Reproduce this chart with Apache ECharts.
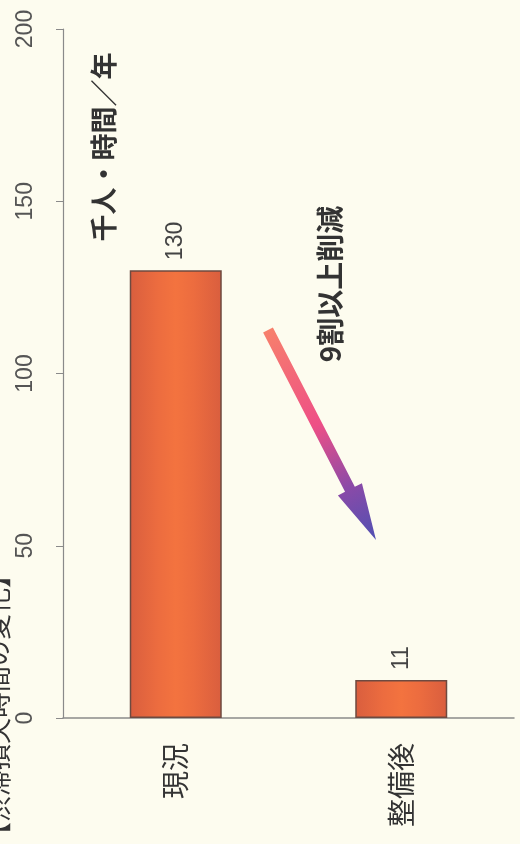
<!DOCTYPE html>
<html>
<head>
<meta charset="utf-8">
<script src="https://cdn.jsdelivr.net/npm/echarts@6/dist/echarts.min.js"></script>
<style>
  html, body { margin: 0; padding: 0; background: #fdfcef; }
  #chart { width: 520px; height: 844px; }
</style>
</head>
<body>
<div id="chart"></div>
<script>
// Congestion time loss: current vs. after improvement (thousand person-hours / year)
const categories = ['現況', '整備後'];
const values = [130, 11];
const axisTicks = [0, 50, 100, 150, 200];
const unitText = '千人・時間／年';
const noteText = '9割以上削減';
const sideTitle = '【渋滞損失時間の変化】';

const chart = echarts.init(document.getElementById('chart'), null, { renderer: 'canvas' });

const latin = '"Liberation Sans", Arial, sans-serif';
const cjk = '"Noto Sans CJK JP", "Noto Sans", sans-serif';

const barFill = new echarts.graphic.LinearGradient(0, 0, 1, 0, [
  { offset: 0, color: '#d95e3e' },
  { offset: 0.3, color: '#ec6c3f' },
  { offset: 0.5, color: '#f3733f' },
  { offset: 0.7, color: '#ec6c3f' },
  { offset: 1, color: '#d95e3e' }
]);

const option = {
  backgroundColor: '#fdfcef',
  animation: false,
  grid: { left: 63, right: 6, top: 29, bottom: 126, containLabel: false },
  xAxis: {
    type: 'category',
    data: categories,
    axisLine: { show: true, lineStyle: { color: '#8a8a8a', width: 1.5 } },
    axisTick: { show: false },
    axisLabel: {
      rotate: 90,
      margin: 25,
      fontSize: 28,
      color: '#333',
      fontFamily: cjk
    }
  },
  yAxis: {
    type: 'value',
    min: axisTicks[0],
    max: axisTicks[axisTicks.length - 1],
    interval: axisTicks[1] - axisTicks[0],
    splitLine: { show: false },
    axisLine: { show: true, lineStyle: { color: '#8a8a8a', width: 1.2 } },
    axisTick: { show: true, length: 7, lineStyle: { color: '#8a8a8a' } },
    axisLabel: {
      rotate: 90,
      margin: 26,
      fontSize: 23,
      color: '#555',
      fontFamily: latin
    }
  },
  series: [{
    type: 'bar',
    data: values,
    barWidth: 92,
    itemStyle: { color: barFill, borderColor: '#6e4a40', borderWidth: 1.5 },
    label: {
      show: true,
      position: 'top',
      distance: 10,
      rotate: 90,
      align: 'left',
      verticalAlign: 'middle',
      fontSize: 23,
      color: '#444',
      fontFamily: latin
    }
  }]
};

chart.setOption(option);

// Annotation arrow (gradient from salmon to violet) and texts
function arrowPoints(x0, y0, x1, y1, shaftHalf, headHalf, headLen) {
  const dx = x1 - x0, dy = y1 - y0;
  const len = Math.sqrt(dx * dx + dy * dy);
  const ux = dx / len, uy = dy / len;
  const nx = -uy, ny = ux;
  const bx = x1 - ux * headLen, by = y1 - uy * headLen;
  return [
    [x0 + nx * shaftHalf, y0 + ny * shaftHalf],
    [bx + nx * shaftHalf, by + ny * shaftHalf],
    [bx + nx * headHalf, by + ny * headHalf],
    [x1, y1],
    [bx - nx * headHalf, by - ny * headHalf],
    [bx - nx * shaftHalf, by - ny * shaftHalf],
    [x0 - nx * shaftHalf, y0 - ny * shaftHalf]
  ];
}

const ax0 = 268, ay0 = 330, ax1 = 376, ay1 = 540;

chart.setOption({
  graphic: [
    {
      type: 'polygon',
      shape: { points: arrowPoints(ax0, ay0, ax1, ay1, 5.5, 13.5, 57) },
      style: {
        fill: new echarts.graphic.LinearGradient(ax0, ay0, ax1, ay1, [
          { offset: 0, color: '#f7806c' },
          { offset: 0.45, color: '#ee4f86' },
          { offset: 0.75, color: '#8a4aa8' },
          { offset: 1, color: '#5050b2' }
        ], true)
      },
      z: 10
    },
    {
      type: 'text',
      x: 104, y: 147,
      rotation: Math.PI / 2,
      style: {
        text: unitText,
        fontSize: 27,
        fontWeight: 'bold',
        fill: '#333',
        fontFamily: cjk,
        textAlign: 'center',
        textVerticalAlign: 'middle'
      }
    },
    {
      type: 'text',
      x: 330, y: 284,
      rotation: Math.PI / 2,
      style: {
        text: noteText,
        fontSize: 28,
        fontWeight: 'bold',
        fill: '#333',
        fontFamily: cjk,
        textAlign: 'center',
        textVerticalAlign: 'middle'
      }
    },
    {
      type: 'text',
      x: -2, y: 562,
      rotation: Math.PI / 2,
      style: {
        text: sideTitle,
        fontSize: 26,
        fill: '#333',
        fontFamily: cjk,
        textAlign: 'right',
        textVerticalAlign: 'middle'
      }
    }
  ]
});
</script>
</body>
</html>
